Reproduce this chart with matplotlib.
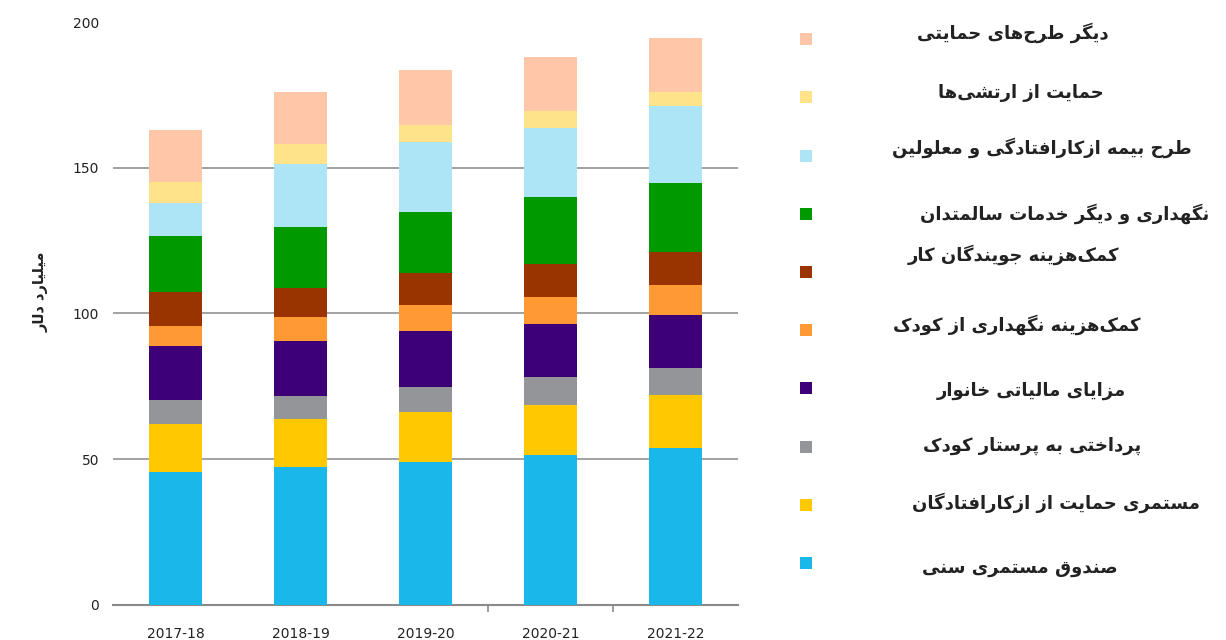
import matplotlib
matplotlib.use("Agg")
import matplotlib.pyplot as plt
from matplotlib.patches import Rectangle

# داده‌ها (میلیارد دلار)
years = ["2017-18", "2018-19", "2019-20", "2020-21", "2021-22"]

age_pension = [45.5, 47.3, 48.9, 51.3, 53.8]
disability_support = [16.6, 16.4, 17.3, 17.3, 18.1]
carer_payment = [8.2, 8.1, 8.6, 9.5, 9.5]
family_tax = [18.6, 18.7, 19.0, 18.1, 18.2]
child_care = [6.6, 8.3, 9.2, 9.4, 10.0]
jobseeker = [11.7, 10.0, 10.7, 11.5, 11.6]
aged_care = [19.3, 20.8, 21.2, 22.8, 23.6]
ndis = [11.3, 21.8, 23.9, 23.8, 26.2]
veterans = [7.2, 6.6, 5.7, 5.7, 5.1]
other = [17.9, 18.1, 18.9, 18.6, 18.5]

labels = [
    "صندوق مستمری سنی",
    "مستمری حمایت از ازکارافتادگان",
    "پرداختی به پرستار کودک",
    "مزایای مالیاتی خانوار",
    "کمک‌هزینه نگهداری از کودک",
    "کمک‌هزینه جویندگان کار",
    "نگهداری و دیگر خدمات سالمتدان",
    "طرح بیمه ازکارافتادگی و معلولین",
    "حمایت از ارتشی‌ها",
    "دیگر طرح‌های حمایتی",
]
series = [age_pension, disability_support, carer_payment, family_tax, child_care,
          jobseeker, aged_care, ndis, veterans, other]
colors = ["#1AB8EA", "#FFC800", "#939598", "#3D0077", "#FF9933",
          "#993300", "#009900", "#ADE5F7", "#FFE38A", "#FFC6A8"]

# شکل‌دهی حروف فارسی (matplotlib خودش اتصال حروف را انجام نمی‌دهد)
FORMS = {
    "ا": (0xFE8D, 0xFE8E), "آ": (0xFE81, 0xFE82), "د": (0xFEA9, 0xFEAA),
    "ذ": (0xFEAB, 0xFEAC), "ر": (0xFEAD, 0xFEAE), "ز": (0xFEAF, 0xFEB0),
    "ژ": (0xFB8A, 0xFB8B), "و": (0xFEED, 0xFEEE),
    "ب": (0xFE8F, 0xFE90, 0xFE91, 0xFE92), "ت": (0xFE95, 0xFE96, 0xFE97, 0xFE98),
    "ث": (0xFE99, 0xFE9A, 0xFE9B, 0xFE9C), "ج": (0xFE9D, 0xFE9E, 0xFE9F, 0xFEA0),
    "ح": (0xFEA1, 0xFEA2, 0xFEA3, 0xFEA4), "خ": (0xFEA5, 0xFEA6, 0xFEA7, 0xFEA8),
    "س": (0xFEB1, 0xFEB2, 0xFEB3, 0xFEB4), "ش": (0xFEB5, 0xFEB6, 0xFEB7, 0xFEB8),
    "ص": (0xFEB9, 0xFEBA, 0xFEBB, 0xFEBC), "ض": (0xFEBD, 0xFEBE, 0xFEBF, 0xFEC0),
    "ط": (0xFEC1, 0xFEC2, 0xFEC3, 0xFEC4), "ظ": (0xFEC5, 0xFEC6, 0xFEC7, 0xFEC8),
    "ع": (0xFEC9, 0xFECA, 0xFECB, 0xFECC), "غ": (0xFECD, 0xFECE, 0xFECF, 0xFED0),
    "ف": (0xFED1, 0xFED2, 0xFED3, 0xFED4), "ق": (0xFED5, 0xFED6, 0xFED7, 0xFED8),
    "ل": (0xFEDD, 0xFEDE, 0xFEDF, 0xFEE0), "م": (0xFEE1, 0xFEE2, 0xFEE3, 0xFEE4),
    "ن": (0xFEE5, 0xFEE6, 0xFEE7, 0xFEE8), "ه": (0xFEE9, 0xFEEA, 0xFEEB, 0xFEEC),
    "ی": (0xFBFC, 0xFBFD, 0xFBFE, 0xFBFF), "پ": (0xFB56, 0xFB57, 0xFB58, 0xFB59),
    "چ": (0xFB7A, 0xFB7B, 0xFB7C, 0xFB7D), "ک": (0xFB8E, 0xFB8F, 0xFB90, 0xFB91),
    "گ": (0xFB92, 0xFB93, 0xFB94, 0xFB95),
}


def fa(text):
    chars = list(text)
    out = []
    for i, c in enumerate(chars):
        if c == "\u200c":
            continue
        if c not in FORMS:
            out.append(c)
            continue
        prev = chars[i - 1] if i > 0 else ""
        nxt = chars[i + 1] if i + 1 < len(chars) else ""
        join_prev = prev in FORMS and len(FORMS[prev]) == 4
        join_next = len(FORMS[c]) == 4 and nxt in FORMS
        f = FORMS[c]
        if join_prev and join_next:
            out.append(chr(f[3]))
        elif join_prev:
            out.append(chr(f[1]))
        elif join_next:
            out.append(chr(f[2]))
        else:
            out.append(chr(f[0]))
    return "".join(reversed(out))


plt.rcParams["font.family"] = ["DejaVu Sans"]

fig = plt.figure(figsize=(12.26, 6.4), dpi=100)
ax = fig.add_axes([113 / 1226, 1 - 604.7 / 640, 625 / 1226, 582.7 / 640])

x = list(range(len(years)))
bottom = [0.0] * len(years)
for vals, col in zip(series, colors):
    ax.bar(x, vals, width=0.42, bottom=bottom, color=col, linewidth=0, zorder=3)
    bottom = [b + v for b, v in zip(bottom, vals)]

ax.set_xlim(-0.5, 4.5)
ax.set_ylim(0, 200)
ax.set_yticks([0, 50, 100, 150, 200])
ax.set_xticks(x)
ax.set_xticklabels(years, fontsize=10, color="#222222")
ax.set_xticks([2.5, 3.5], minor=True)
ax.tick_params(axis="x", which="major", length=0, pad=16)
ax.tick_params(axis="x", which="minor", length=5, width=1.2, color="#8a8a8a")
ax.tick_params(axis="y", length=0, pad=10, labelsize=10, labelcolor="#222222")

for yv in [50, 100, 150]:
    ax.axhline(yv, color="#9a9a9a", linewidth=1.3, zorder=1)

for s in ["top", "right", "left"]:
    ax.spines[s].set_visible(False)
ax.spines["bottom"].set_color("#8a8a8a")
ax.spines["bottom"].set_linewidth(1.5)

fig.text(41 / 1226, 1 - 292 / 640, fa("میلیارد دلار"), rotation=90,
         ha="center", va="center", fontsize=10.5, fontweight="bold", color="#222222")

# راهنما
lg = fig.add_axes([0, 0, 1, 1], zorder=5)
lg.set_xlim(0, 1226)
lg.set_ylim(640, 0)
lg.axis("off")
text_dy = [5, -2, -1, 2, -6, -17, 0, -8, -4, -7]
text_x = [922, 912, 923, 937, 893, 908, 920, 892, 938, 917]
for i, (lab, col) in enumerate(zip(labels, colors)):
    yc = 563 - 58.2 * i
    lg.add_patch(Rectangle((800, yc - 6), 12, 12, color=col, linewidth=0))
    lg.text(text_x[i], yc + text_dy[i], fa(lab), ha="left", va="center",
            fontsize=13, fontweight="bold", color="#222222")

fig.savefig("out.png", dpi=100)
